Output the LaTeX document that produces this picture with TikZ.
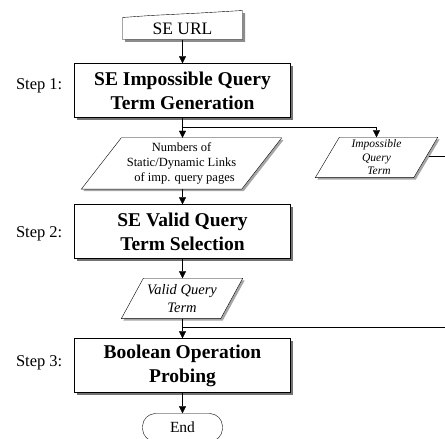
\documentclass[tikz,border=0pt]{standalone}
\usepackage{fontspec}
\setmainfont{Liberation Serif}
\usetikzlibrary{arrows.meta}

\pgfdeclarelayer{background}
\pgfsetlayers{background,main}

% parallelogram (data) outline drawn around a frame node, with a soft shadow
\newcommand{\ioshape}[2]{%
  \begin{pgfonlayer}{background}
    \fill[black!35] ([xshift=#2+2pt,yshift=-2pt]#1.north west) -- ([xshift=2pt,yshift=-2pt]#1.north east)
      -- ([xshift=-#2+2pt,yshift=-2pt]#1.south east) -- ([xshift=2pt,yshift=-2pt]#1.south west) -- cycle;
    \fill[white] ([xshift=#2]#1.north west) -- (#1.north east)
      -- ([xshift=-#2]#1.south east) -- (#1.south west) -- cycle;
  \end{pgfonlayer}
  \draw ([xshift=#2]#1.north west) -- (#1.north east)
      -- ([xshift=-#2]#1.south east) -- (#1.south west) -- cycle;}
% grey shadow behind a rectangular node
\newcommand{\boxshadow}[1]{%
  \begin{pgfonlayer}{background}
    \fill[black!55] ([xshift=2.5pt,yshift=-2.5pt]#1.south west) rectangle ([xshift=2.5pt,yshift=-2.5pt]#1.north east);
  \end{pgfonlayer}}

\begin{document}
\begin{tikzpicture}[x=1pt,y=1pt, line width=1pt,
  flow/.style={-{Triangle[length=7pt,width=7pt]}},
  stepbox/.style={draw, preaction={fill=white}, minimum width=216pt, minimum height=54pt, inner sep=0pt,
    align=center, font=\fontsize{19.5}{24}\selectfont\bfseries},
  steplabel/.style={anchor=east, inner sep=0pt, font=\fontsize{16.5}{18}\selectfont},
  ioframe/.style={minimum width=#1, inner sep=0pt, align=center},
]
\useasboundingbox (0,0) rectangle (445,439);

% the whole chart sits half a unit off the grid so that 1pt rules stay sharp
\begin{scope}[shift={(0.5,0.5)}]

% ---- start: manual input of the search engine URL
\node[minimum width=120pt, minimum height=29pt, inner sep=0pt] (seurl) at (182,413.5) {};
\begin{pgfonlayer}{background}
  \fill[black!45] (124.5,418.5) -- (244.5,425.5) -- (244.5,396.5) -- (124.5,396.5) -- cycle;
  \fill[white] (122,421) -- (150,423) -- (200,425.5) -- (242,428) -- (242,399) -- (122,399) -- cycle;
\end{pgfonlayer}
\draw (122,421) -- (150,423) -- (200,425.5) -- (242,428) -- (242,399) -- (122,399) -- cycle;
\node[font=\fontsize{17.5}{18}\selectfont, inner sep=0pt] (seurltxt) at (182,409.5) {SE URL};

% ---- processing steps
\node[stepbox] (s1) at (182,348) {SE Impossible Query\\Term Generation};
\node[stepbox] (s2) at (182,207) {SE Valid Query\\Term Selection};
\node[stepbox] (s3) at (182,73) {Boolean Operation\\Probing};
\boxshadow{s1}
\boxshadow{s2}
\boxshadow{s3}

\node[steplabel] (l1) at (62,353) {Step 1:};
\node[steplabel] (l2) at (62,205) {Step 2:};
\node[steplabel] (l3) at (62,76) {Step 3:};

% ---- data produced by the steps
\node[ioframe=200pt, minimum height=51pt, font=\fontsize{12.5}{15}\selectfont] (num) at (181,275)
  {Numbers of\\Static/Dynamic Links\\\hspace*{6pt}of imp. query pages};
\ioshape{num}{40pt}

\node[ioframe=122pt, minimum height=40pt, font=\fontsize{11.5}{13.5}\selectfont\itshape] (imp) at (376,281)
  {Impossible\\Query\\\hspace*{5pt}Term};
\ioshape{imp}{24pt}

\node[ioframe=121pt, minimum height=40pt, font=\fontsize{14.5}{18}\selectfont\itshape] (valid) at (181.5,140)
  {Valid Query\\Term};
\ioshape{valid}{22pt}

% ---- terminator
\node[draw, preaction={fill=white}, rounded corners=13pt, minimum width=80pt, minimum height=28pt, inner sep=0pt,
  font=\fontsize{15.5}{18}\selectfont] (end) at (182,11) {End};

% ---- connectors
\coordinate (split1) at (182,311);
\coordinate (impout) at (428,282);
\coordinate (impedge) at (447,282);
\coordinate (split2) at (182,111);
\coordinate (validedge) at (447,111);

\draw[flow] (seurl.south) -- (s1.north);
\draw[flow] (s1.south) -- (num.north -| s1.south);
\draw[flow] (split1) -| (imp.north);
\draw (impout) -- (impedge);
\draw[flow] (num.south -| s2.north) -- (s2.north);
\draw[flow] (s2.south) -- (valid.north -| s2.south);
\draw[flow] (valid.south -| s3.north) -- (s3.north);
\draw (split2) -- (validedge);
\draw[flow] (s3.south) -- (end.north);
\end{scope}
\end{tikzpicture}
\end{document}
